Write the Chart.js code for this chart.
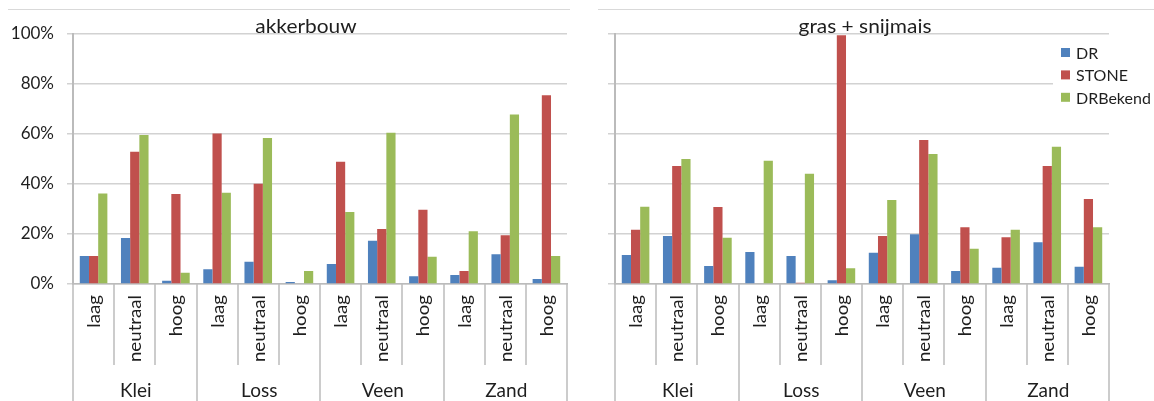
<!DOCTYPE html>
<html>
<head>
<meta charset="utf-8">
<script src="https://cdn.jsdelivr.net/npm/chart.js@4.4.1/dist/chart.umd.min.js"></script>
<style>
  html, body { margin: 0; background: #fff; }
  #wrap { position: relative; width: 1154px; height: 401px; overflow: hidden; }
  canvas { position: absolute; top: 0; }
  #cAkker { left: 0; }
  #cGras { left: 580px; }
</style>
</head>
<body>
<div id="wrap">
  <canvas id="cAkker" width="580" height="401"></canvas>
  <canvas id="cGras" width="574" height="401"></canvas>
</div>
<script>
'use strict';
// Share of parcels per soil type and class, for arable land and grass/maize.

const soils = ['Klei', 'Loss', 'Veen', 'Zand'];
const levels = ['laag', 'neutraal', 'hoog'];
const categories = ['Klei laag', 'Klei neutraal', 'Klei hoog', 'Loss laag', 'Loss neutraal', 'Loss hoog',
                    'Veen laag', 'Veen neutraal', 'Veen hoog', 'Zand laag', 'Zand neutraal', 'Zand hoog'];
const seriesNames = ['DR', 'STONE', 'DRBekend'];
const seriesColors = ['#4F81BD', '#C0504D', '#9BBB59'];
const yTicks = [0, 20, 40, 60, 80, 100];

// akkerbouw (%)
const akkerDR       = [11.2, 18.4, 1.3, 5.9, 8.9, 0.8, 8.0, 17.3, 3.1, 3.6, 11.9, 2.0];
const akkerSTONE    = [11.2, 52.8, 35.9, 60.1, 40.0, 0, 48.8, 22.0, 29.6, 5.2, 19.5, 75.3];
const akkerDRBekend = [36.1, 59.5, 4.5, 36.4, 58.3, 5.2, 28.7, 60.4, 10.9, 21.1, 67.7, 11.2];

// gras + snijmais (%)
const grasDR        = [11.6, 19.2, 7.2, 12.8, 11.2, 1.5, 12.5, 19.9, 5.2, 6.5, 16.7, 6.9];
const grasSTONE     = [21.7, 47.1, 30.7, 0, 0.5, 99.3, 19.2, 57.5, 22.7, 18.7, 47.1, 33.9];
const grasDRBekend  = [30.8, 49.9, 18.5, 49.2, 44.0, 6.3, 33.5, 51.9, 14.1, 21.7, 54.8, 22.7];

const FONT = 'Lato, "Open Sans", sans-serif';
const TEXT = '#1e1e1e';
const GRID = '#d2d2d2';
const AXIS = '#bbbbbb';

function stretchText(ctx, s, x, y, sx) {
  ctx.save();
  ctx.translate(x, y);
  ctx.scale(sx, 1);
  ctx.fillText(s, 0, 0);
  ctx.restore();
}

// frame edge, two-level category axis, panel title and (optionally) legend
const panelDecor = {
  id: 'panelDecor',
  afterDraw(chart, args, o) {
    const ctx = chart.ctx, xs = chart.scales.x, area = chart.chartArea;
    const step = xs.getPixelForValue(1) - xs.getPixelForValue(0);
    ctx.save();

    ctx.strokeStyle = '#d9d9d9';
    ctx.lineWidth = 1;
    ctx.beginPath(); ctx.moveTo(o.frame[0], 9.5); ctx.lineTo(o.frame[1], 9.5); ctx.stroke();

    ctx.strokeStyle = AXIS;
    ctx.lineWidth = 1.5;
    for (let i = 0; i <= categories.length; i++) {
      const px = Math.round(xs.getPixelForValue(i) - step / 2);
      ctx.beginPath();
      ctx.moveTo(px, area.bottom);
      ctx.lineTo(px, i % levels.length === 0 ? 401 : 365);
      ctx.stroke();
    }

    ctx.fillStyle = TEXT;
    ctx.font = '17px ' + FONT;
    ctx.textAlign = 'right';
    ctx.textBaseline = 'middle';
    categories.forEach((c, i) => {
      ctx.save();
      ctx.translate(xs.getPixelForValue(i) + 1, 295);
      ctx.rotate(-Math.PI / 2);
      ctx.scale(1.1, 1);
      ctx.fillText(levels[i % levels.length], 0, 0);
      ctx.restore();
    });

    ctx.font = '19px ' + FONT;
    ctx.textAlign = 'center';
    ctx.textBaseline = 'alphabetic';
    soils.forEach((s, g) => {
      const cx = (xs.getPixelForValue(g * 3) + xs.getPixelForValue(g * 3 + 2)) / 2;
      ctx.fillText(s, cx + 1, 397);
    });

    ctx.font = '19px ' + FONT;
    stretchText(ctx, o.title, o.titleX, 33, 1.1);

    if (o.legend) {
      const lx = o.legend.x, ly = o.legend.y;
      ctx.fillStyle = '#fff';
      ctx.fillRect(lx - 8, ly - 10, 120, 72);
      ctx.font = '16px ' + FONT;
      ctx.textAlign = 'left';
      seriesNames.forEach((name, i) => {
        const by = ly + i * 22.4;
        ctx.fillStyle = seriesColors[i];
        ctx.fillRect(lx, by, 9, 9);
        ctx.fillStyle = TEXT;
        stretchText(ctx, name, lx + 15, by + 11, 1.0);
      });
    }
    ctx.restore();
  }
};

function makePanel(canvas, values, opts) {
  return new Chart(canvas.getContext('2d'), {
    type: 'bar',
    data: {
      labels: categories,
      datasets: values.map((v, i) => ({
        label: seriesNames[i], data: v, backgroundColor: seriesColors[i],
        categoryPercentage: 0.67, barPercentage: 1.0, borderWidth: 0
      }))
    },
    options: {
      responsive: false, animation: false, devicePixelRatio: 1,
      layout: { padding: { top: 33.5, right: opts.padRight, left: 0, bottom: 0 } },
      scales: {
        x: {
          grid: { display: false },
          border: { display: true, color: AXIS, width: 1.5 },
          ticks: { display: false },
          afterFit: (s) => { s.height = 117; }
        },
        y: {
          min: 0, max: 100,
          afterBuildTicks: (s) => { s.ticks = yTicks.map((v) => ({ value: v })); },
          grid: { color: GRID, lineWidth: 1.5, tickLength: opts.tickLength },
          border: { color: AXIS, width: 2 },
          ticks: {
            display: opts.showTicks, padding: 13, color: TEXT,
            font: { family: FONT, size: 17 },
            callback: (v) => v + '%'
          },
          afterFit: (s) => { s.width = opts.axisWidth; }
        }
      },
      plugins: {
        legend: { display: false },
        tooltip: { enabled: false },
        panelDecor: opts.decor
      }
    },
    plugins: [panelDecor]
  });
}

makePanel(document.getElementById('cAkker'), [akkerDR, akkerSTONE, akkerDRBekend], {
  padRight: 13, axisWidth: 73, tickLength: 6, showTicks: true,
  decor: { title: 'akkerbouw', titleX: 306, frame: [8, 570], legend: null }
});

makePanel(document.getElementById('cGras'), [grasDR, grasSTONE, grasDRBekend], {
  padRight: 45, axisWidth: 35, tickLength: 7, showTicks: false,
  decor: { title: 'gras + snijmais', titleX: 285, frame: [18, 574], legend: { x: 481, y: 48 } }
});
</script>
</body>
</html>
